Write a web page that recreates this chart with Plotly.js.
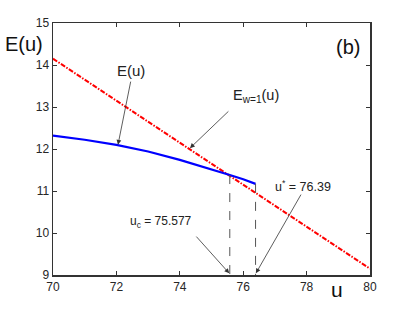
<!DOCTYPE html>
<html><head><meta charset="utf-8">
<script src="https://cdn.plot.ly/plotly-3.0.1.min.js"></script>
<style>html,body{margin:0;padding:0;background:#fff}#c{width:409px;height:310px}</style>
</head><body><div id="c"></div>
<script>
// Data
var uLine = [70, 80];
var eW1 = [14.15, 9.15];
var uCurve = [70, 71, 72, 73, 74, 75, 75.577, 76, 76.39];
var eCurve = [12.32, 12.22, 12.10, 11.94, 11.74, 11.52, 11.38, 11.28, 11.17];
var uC = 75.577, eC = 11.38;
var uStar = 76.39, eStar = 11.17;
var yMin = 9;
var xTicks = [70, 72, 74, 76, 78, 80];
var yTicks = [9, 10, 11, 12, 13, 14, 15];

var font = "Liberation Sans, Arial, sans-serif";
var traces = [
  {x: uLine, y: eW1, mode: 'lines', line: {color: '#ff0000', width: 2, dash: '5px,1.5px,1.5px,1.5px'}, hoverinfo: 'none'},
  {x: uCurve, y: eCurve, mode: 'lines', line: {color: '#0000ff', width: 2.2}, hoverinfo: 'none'},
  {x: [uC, uC], y: [eC, yMin], mode: 'lines', line: {color: '#555', width: 1, dash: 'dash'}, hoverinfo: 'none'},
  {x: [uStar, uStar], y: [eStar, yMin], mode: 'lines', line: {color: '#555', width: 1, dash: 'dash'}, hoverinfo: 'none'}
];
function arrow(x, y, ax, ay) {
  return {x: x, y: y, ax: ax, ay: ay, xref: 'x', yref: 'y', axref: 'x', ayref: 'y',
    text: '', showarrow: true, arrowhead: 2, arrowsize: 1.2, arrowwidth: 0.8, arrowcolor: '#333', standoff: 0, startstandoff: 0};
}
function label(x, y, t, s) {
  return {x: x, y: y, xref: 'x', yref: 'y', text: t, showarrow: false, xanchor: 'center', yanchor: 'middle',
    font: {family: font, size: s || 12, color: '#222'}};
}
function ptext(x, y, t, s) {
  return {xref: 'paper', yref: 'paper', x: x, y: y, text: t, showarrow: false, xanchor: 'center', yanchor: 'middle',
    font: {family: font, size: s, color: '#111'}};
}
var layout = {
  width: 409, height: 310,
  margin: {l: 53, r: 39, t: 23, b: 35},
  paper_bgcolor: '#fff', plot_bgcolor: '#fff',
  showlegend: false,
  font: {family: font, size: 12, color: '#262626'},
  xaxis: {range: [70, 80], tickvals: xTicks, ticks: 'inside', ticklen: 4, tickcolor: '#333', tickwidth: 1,
    showline: true, linecolor: '#333', linewidth: 1.5, mirror: 'ticks', showgrid: false, zeroline: false,
    tickfont: {family: font, size: 12, color: '#262626'}},
  yaxis: {range: [9, 15], tickvals: yTicks, ticks: 'inside', ticklen: 4, tickcolor: '#333', tickwidth: 1,
    showline: true, linecolor: '#333', linewidth: 1.5, mirror: 'ticks', showgrid: false, zeroline: false,
    tickfont: {family: font, size: 12, color: '#262626'}},
  annotations: [
    ptext(-0.092, 0.915, 'E(u)', 20),
    ptext(0.895, -0.056, 'u', 21),
    ptext(0.93, 0.905, '(b)', 20),
    label(72.46, 13.86, 'E(u)', 15),
    arrow(72.05, 12.10, 72.46, 13.64),
    label(76.4, 13.27, 'E<sub>w=1</sub>(u)', 14.5),
    arrow(74.32, 12.02, 75.58, 12.93),
    label(73.41, 10.26, 'u<sub>c</sub> = 75.577', 12),
    arrow(75.56, 9.04, 74.48, 9.95),
    label(77.9, 11.12, 'u<sup>*</sup> = 76.39', 12.5),
    arrow(76.40, 9.04, 77.85, 10.95)
  ]
};
Plotly.newPlot('c', traces, layout, {displayModeBar: false, staticPlot: true});
</script></body></html>
